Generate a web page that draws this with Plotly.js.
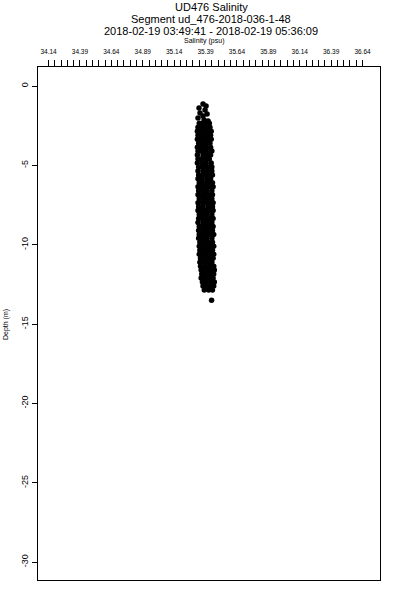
<!DOCTYPE html>
<html>
<head>
<meta charset="utf-8">
<script src="https://cdn.plot.ly/plotly-3.0.1.min.js"></script>
<style>html,body{margin:0;padding:0;background:#fff;}#chart{width:400px;height:600px;}</style>
</head>
<body>
<div id="chart"></div>
<script>
// ---- data ----
// sparse points near the top of the profile
const topDepth = [-1.13, -1.26, -1.39, -1.51, -1.70, -1.76, -1.89, -2.02, -2.14, -2.20];
const topSal   = [35.370, 35.394, 35.338, 35.386, 35.346, 35.402, 35.370, 35.330, 35.378, 35.410];

// main column: depth of each row and the salinity values seen on that row
const rowDepth = [-2.35, -2.6, -2.85, -3.1, -3.35, -3.6, -3.85, -4.1, -4.35, -4.6, -4.85, -5.1, -5.35, -5.6,
  -5.85, -6.1, -6.35, -6.6, -6.85, -7.1, -7.35, -7.6, -7.85, -8.1, -8.35, -8.6, -8.85, -9.1, -9.35, -9.6,
  -9.85, -10.1, -10.35, -10.6, -10.85, -11.1, -11.35, -11.6, -11.85, -12.1, -12.35, -12.6, -12.85];
const rowSal = [
  [35.34, 35.37, 35.40, 35.42],
  [35.33, 35.36, 35.39, 35.425],
  [35.325, 35.355, 35.385, 35.415, 35.435],
  [35.33, 35.365, 35.40, 35.43],
  [35.325, 35.35, 35.38, 35.41, 35.435],
  [35.335, 35.37, 35.39, 35.425],
  [35.325, 35.36, 35.395, 35.43],
  [35.33, 35.35, 35.38, 35.415, 35.44],
  [35.325, 35.37, 35.40, 35.43],
  [35.33, 35.355, 35.39, 35.42],
  [35.325, 35.365, 35.395, 35.435],
  [35.335, 35.36, 35.38, 35.41, 35.44],
  [35.33, 35.37, 35.405, 35.44],
  [35.335, 35.365, 35.39, 35.425, 35.445],
  [35.33, 35.36, 35.40, 35.43],
  [35.34, 35.375, 35.41, 35.445],
  [35.33, 35.355, 35.39, 35.42, 35.45],
  [35.335, 35.37, 35.40, 35.44],
  [35.33, 35.36, 35.385, 35.415, 35.445],
  [35.34, 35.375, 35.405, 35.44],
  [35.33, 35.365, 35.395, 35.43, 35.45],
  [35.335, 35.37, 35.41, 35.445],
  [35.33, 35.355, 35.39, 35.42, 35.45],
  [35.34, 35.375, 35.40, 35.44],
  [35.335, 35.36, 35.395, 35.425, 35.45],
  [35.33, 35.37, 35.405, 35.44],
  [35.34, 35.365, 35.39, 35.42, 35.45],
  [35.335, 35.375, 35.41, 35.445],
  [35.34, 35.36, 35.395, 35.43, 35.455],
  [35.335, 35.37, 35.40, 35.44],
  [35.345, 35.375, 35.41, 35.445],
  [35.34, 35.365, 35.395, 35.43, 35.455],
  [35.345, 35.38, 35.41, 35.445],
  [35.34, 35.37, 35.40, 35.43, 35.455],
  [35.35, 35.38, 35.415, 35.45],
  [35.345, 35.375, 35.405, 35.44],
  [35.35, 35.385, 35.42, 35.455],
  [35.355, 35.38, 35.41, 35.445, 35.46],
  [35.36, 35.39, 35.425, 35.455],
  [35.355, 35.385, 35.415, 35.45],
  [35.365, 35.395, 35.43, 35.46],
  [35.37, 35.40, 35.435, 35.455],
  [35.38, 35.415, 35.445]
];
// isolated deepest point
const lowDepth = [-13.5];
const lowSal = [35.438];

const xTickLabels = ['34.14','34.39','34.64','34.89','35.14','35.39','35.64','35.89','36.14','36.39','36.64'];
const yTickVals = [0, -5, -10, -15, -20, -25, -30];
const yTickText = ['0', '-5', '-10', '-15', '-20', '-25', '-30'];

// ---- build ----
const xs = [], ys = [];
topSal.forEach((s, i) => { xs.push(s); ys.push(topDepth[i]); });
rowSal.forEach((row, i) => row.forEach(s => { xs.push(s); ys.push(rowDepth[i]); }));
lowSal.forEach((s, i) => { xs.push(s); ys.push(lowDepth[i]); });

// tick marks: 5 subdivisions between labelled values
const xTickVals = [], xTickText = [];
const majors = xTickLabels.map(Number);
for (let i = 0; i < majors.length; i++) {
  xTickVals.push(majors[i]); xTickText.push(xTickLabels[i]);
  if (i < majors.length - 1) {
    const step = (majors[i + 1] - majors[i]) / 5;
    for (let k = 1; k < 5; k++) { xTickVals.push(majors[i] + k * step); xTickText.push(''); }
  }
}

const FONT = 'Liberation Sans, Arial, Helvetica, sans-serif';
const L = 38, R = 380, T = 67, B = 580;
const px = x => (x - L) / (R - L);
const py = y => (B - y) / (B - T);

const trace = {
  x: xs, y: ys, type: 'scatter', mode: 'markers',
  marker: { color: '#000', size: 5.5, line: { width: 0 } },
  hoverinfo: 'none', showlegend: false
};

const layout = {
  width: 400, height: 600,
  margin: { l: L, r: 400 - R, t: T, b: 600 - B, pad: 0 },
  paper_bgcolor: '#fff', plot_bgcolor: '#fff',
  font: { family: FONT, color: '#000' },
  showlegend: false,
  xaxis: {
    side: 'top', range: [34.056, 36.779], autorange: false,
    tickmode: 'array', tickvals: xTickVals, ticktext: xTickText,
    ticks: 'outside', ticklen: 6, tickwidth: 1, tickcolor: '#000',
    ticklabelstandoff: 3,
    tickfont: { size: 6.5, family: FONT, color: '#000' },
    showgrid: false, zeroline: false,
    showline: true, mirror: true, linecolor: '#000', linewidth: 1
  },
  yaxis: {
    range: [-31.13, 1.2], autorange: false,
    tickmode: 'array', tickvals: yTickVals, ticktext: yTickText,
    ticks: 'outside', ticklen: 5, tickwidth: 1, tickcolor: '#000',
    tickangle: -90, tickfont: { size: 9, family: FONT, color: '#000' },
    showgrid: false, zeroline: false,
    showline: true, mirror: true, linecolor: '#000', linewidth: 1
  },
  annotations: [
    { text: 'UD476 Salinity', x: px(211), y: py(7), xref: 'paper', yref: 'paper', showarrow: false,
      xanchor: 'center', yanchor: 'middle', font: { size: 11, family: FONT } },
    { text: 'Segment ud_476-2018-036-1-48', x: px(211), y: py(19), xref: 'paper', yref: 'paper', showarrow: false,
      xanchor: 'center', yanchor: 'middle', font: { size: 11, family: FONT } },
    { text: '2018-02-19 03:49:41 - 2018-02-19 05:36:09', x: px(210.5), y: py(31), xref: 'paper', yref: 'paper', showarrow: false,
      xanchor: 'center', yanchor: 'middle', font: { size: 11, family: FONT } },
    { text: 'Salinity (psu)', x: px(204), y: py(41), xref: 'paper', yref: 'paper', showarrow: false,
      xanchor: 'center', yanchor: 'middle', font: { size: 7, family: FONT } },
    { text: 'Depth (m)', x: px(6), y: py(325), xref: 'paper', yref: 'paper', showarrow: false,
      xanchor: 'center', yanchor: 'middle', textangle: -90, font: { size: 7, family: FONT } }
  ]
};

Plotly.newPlot('chart', [trace], layout, { staticPlot: true, displayModeBar: false });
</script>
</body>
</html>
